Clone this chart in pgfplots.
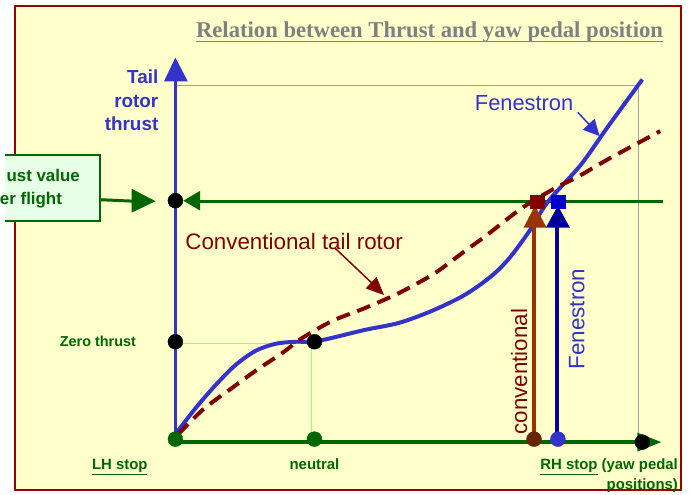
\documentclass[border=0pt]{standalone}
\usepackage{pgfplots}
\pgfplotsset{compat=1.18}
\usepackage{fontspec}
\setmainfont{Liberation Sans}
\newfontfamily\seriffont{Liberation Serif}
\definecolor{bgyellow}{HTML}{FFFFCC}
\definecolor{framered}{HTML}{990000}
\definecolor{cblue}{HTML}{3333CC}
\definecolor{dred}{HTML}{800000}
\definecolor{dgreen}{HTML}{006600}
\definecolor{brownc}{HTML}{993300}
\definecolor{navyc}{HTML}{000099}
\definecolor{sqblue}{HTML}{0000CC}
\definecolor{lgreen}{HTML}{99FF66}
\definecolor{grayc}{HTML}{A0A0A0}
\definecolor{boxgreen}{HTML}{E6FFE6}
\definecolor{titlegray}{HTML}{808080}
\begin{document}
\begin{tikzpicture}
\begin{axis}[scale only axis, width=691pt, height=498pt,
  xmin=0, xmax=691, ymin=0, ymax=498, y dir=reverse,
  axis lines=none, clip=false]
% backgrounds
\addplot[fill=white, draw=none] coordinates {(0,0)(691,0)(691,498)(0,498)} --cycle;
\addplot[fill=bgyellow, draw=framered, line width=2pt] coordinates {(11,6)(681,6)(681,493)(11,493)} --cycle;
% title
\node[anchor=base east, text=titlegray, inner sep=0pt] at (axis cs:663,38) {\seriffont\bfseries\fontsize{22.8}{24}\selectfont Relation between Thrust and yaw pedal position};
\addplot[titlegray, line width=1.5pt] coordinates {(193,42)(663,42)};
% gray rectangle
\addplot[grayc, line width=1.5pt] coordinates {(172,86)(638,86)};
\addplot[grayc, line width=1pt] coordinates {(638,86)(638,445)};
% light green guides
\addplot[lgreen, line width=1pt] coordinates {(172,346)(311,346)};
\addplot[lgreen, line width=1pt] coordinates {(309,346)(309,445)};
% box
\addplot[fill=boxgreen, draw=none] coordinates {(0,156)(96,156)(96,222)(0,222)} --cycle;
\addplot[dgreen, line width=2pt] coordinates {(0,156)(96,156)(96,222)(0,222)};
\node[anchor=east, text=dgreen, inner sep=0pt] at (axis cs:76,177) {\bfseries\fontsize{17}{20}\selectfont ust value};
\node[anchor=east, text=dgreen, inner sep=0pt] at (axis cs:58,201) {\bfseries\fontsize{17}{20}\selectfont er flight};
\addplot[dgreen, line width=3pt] coordinates {(96,201)(130,202.5)};
\addplot[fill=dgreen, draw=none] coordinates {(152,202.5)(128,190)(128,214)} --cycle;
% green hover line
\addplot[dgreen, line width=3pt] coordinates {(195,203)(663,203)};
\addplot[fill=dgreen, draw=none] coordinates {(180,202)(197,192)(197,212)} --cycle;
% curves
\addplot[cblue, line width=4pt, smooth] coordinates {
(172,437)(193,410)(213,387)(233,367)(253,353)(273,346)(293,344)(311,344)(330,340)(363,332)(397,325)(430,313)(463,297)(490,278)(508,260)(528,233)(547,203)(580,166)(607,128)(642,80)};
\addplot[dred, line width=4pt, dash pattern=on 14pt off 8pt, smooth] coordinates {
(175,437)(200,412)(227,392)(253,373)(280,355)(300,340)(330,323)(363,310)(397,295)(430,277)(447,265)(463,253)(485,237)(520,210)(553,190)(577,178)(608,160)(660,132)};
% y axis
\addplot[cblue, line width=3.5pt] coordinates {(172,445)(172,80)};
\addplot[fill=cblue, draw=none] coordinates {(172,58)(160.5,82)(184.5,82)} --cycle;
% x axis
\addplot[dgreen, line width=4.5pt] coordinates {(172,445)(640,445)};
\addplot[fill=dgreen, draw=none] coordinates {(661,445)(637,435.5)(637,454.5)} --cycle;
% stop arrows
\addplot[brownc, line width=4pt] coordinates {(533,442)(533,226)};
\addplot[fill=brownc, draw=none] coordinates {(534,207)(522.5,229)(545.5,229)} --cycle;
\addplot[navyc, line width=3.5pt] coordinates {(556,442)(556,226)};
\addplot[fill=navyc, draw=none] coordinates {(557,207)(545,229)(569,229)} --cycle;
% squares
\addplot[only marks, mark=square*, mark size=7pt, mark options={fill=dred, draw=dred}] coordinates {(536,203)};
\addplot[only marks, mark=square*, mark size=7pt, mark options={fill=sqblue, draw=sqblue}] coordinates {(557,203)};
% dots
\addplot[only marks, mark=*, mark size=7.5pt, mark options={fill=black, draw=black}] coordinates {(172,202)(172,344)(312,344)(642,445)};
\addplot[only marks, mark=*, mark size=7.5pt, mark options={fill=dgreen, draw=dgreen}] coordinates {(172,442)(312,442)};
\addplot[only marks, mark=*, mark size=7.5pt, mark options={fill=brownc!70!black, draw=brownc!70!black}] coordinates {(533,442)};
\addplot[only marks, mark=*, mark size=7.5pt, mark options={fill=cblue, draw=cblue}] coordinates {(557,442)};
% label arrows
\addplot[dred, line width=1.5pt] coordinates {(333,250)(372,287)};
\addplot[fill=dred, draw=none] coordinates {(382,297)(363.5,290.3)(374.5,278.7)} --cycle;
\addplot[cblue, line width=1.5pt] coordinates {(577,113)(590,127)};
\addplot[fill=cblue, draw=none] coordinates {(599,137)(582,130.6)(594,119.5)} --cycle;
% texts
\node[anchor=east, align=right, text=cblue, inner sep=0pt, font=\bfseries\fontsize{19}{24}\selectfont] at (axis cs:155,101) {Tail\\rotor\\thrust};
\node[text=cblue, inner sep=0pt] at (axis cs:523,104) {\fontsize{22}{24}\selectfont Fenestron};
\node[text=dred, inner sep=0pt] at (axis cs:291.5,243) {\fontsize{22.5}{24}\selectfont Conventional tail rotor};
\node[text=dred, rotate=90, inner sep=0pt] at (axis cs:518,374) {\fontsize{22.5}{24}\selectfont conventional};
\node[text=cblue, rotate=90, inner sep=0pt] at (axis cs:576,321) {\fontsize{22.5}{24}\selectfont Fenestron};
\node[text=dgreen, inner sep=0pt] at (axis cs:94,344) {\bfseries\fontsize{14.5}{17}\selectfont Zero thrust};
\node[text=dgreen, inner sep=0pt, anchor=base] at (axis cs:116,473) {\bfseries\fontsize{15}{17}\selectfont \underline{LH stop}};
\node[text=dgreen, inner sep=0pt, anchor=base] at (axis cs:312,473) {\bfseries\fontsize{15}{17}\selectfont neutral};
\node[text=dgreen, inner sep=0pt, anchor=base east] at (axis cs:678,473) {\bfseries\fontsize{15}{17}\selectfont \underline{RH stop} (yaw pedal};
\node[text=dgreen, inner sep=0pt, anchor=base east] at (axis cs:678,493) {\bfseries\fontsize{15}{17}\selectfont positions)};
\end{axis}
\end{tikzpicture}
\end{document}
